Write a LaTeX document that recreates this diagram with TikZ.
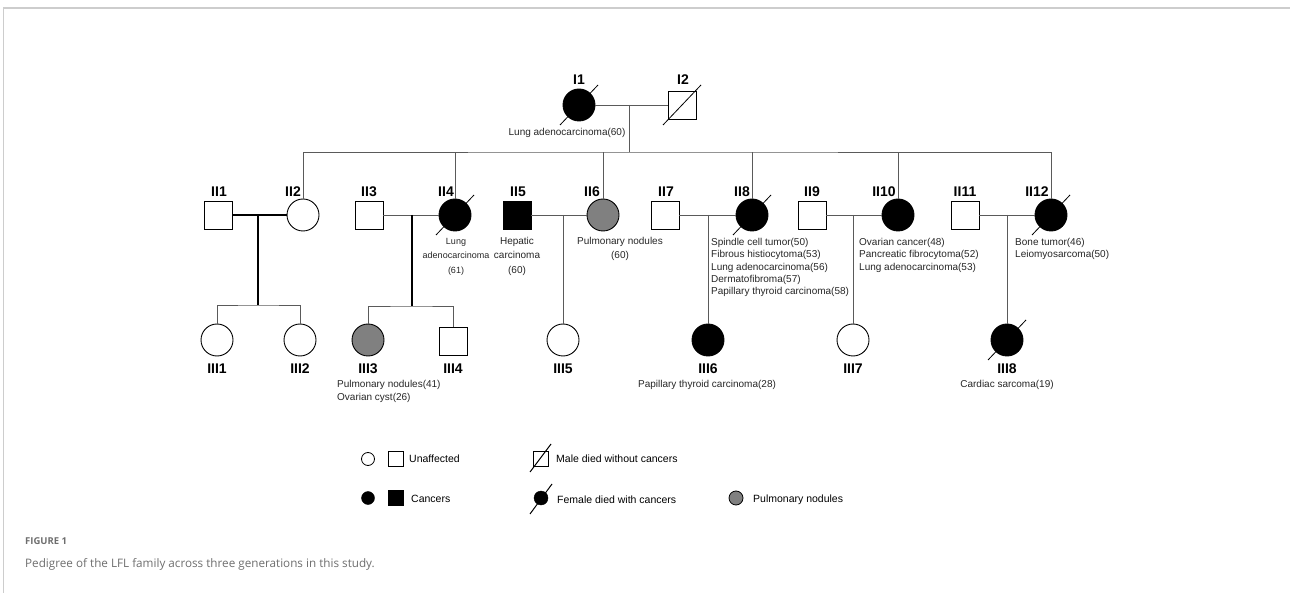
\documentclass[tikz,border=0pt]{standalone}
\usepackage{fontspec}
\setmainfont{Liberation Sans}
\newfontfamily\capfont{Open Sans}
\usetikzlibrary{positioning}

\definecolor{linegray}{RGB}{90,90,90}
\definecolor{nodulegray}{RGB}{128,128,128}
\definecolor{framegray}{RGB}{205,205,205}
\definecolor{capgray}{RGB}{110,110,110}

\newcommand{\deathmark}[1]{\draw [black, line width=0.8pt] ([shift={(-19,20)}]#1.center) -- ([shift={(19,-20)}]#1.center);}

\begin{document}
\begin{tikzpicture}[x=1pt, y=-1pt,
    male/.style={draw, line width=0.9pt, minimum size=28pt, inner sep=0pt},
    female/.style={draw, circle, line width=0.9pt, minimum size=32pt, inner sep=0pt},
    kin/.style={linegray, line width=0.8pt},
    bold kin/.style={black, line width=1.6pt},
    tag/.style={font=\fontsize{14}{14}\selectfont\bfseries, inner sep=0pt},
    note/.style={font=\fontsize{10}{12.3}\selectfont, text=black!85, inner sep=0pt},
    legtext/.style={font=\fontsize{10.5}{12}\selectfont, inner sep=0pt, anchor=west}]
  \useasboundingbox (0,0) rectangle (1290,593);
  \draw [framegray, line width=1.5pt] (3.5,593) -- (3.5,8) -- (1290,8);

  % generation I
  \node [female, fill=black] (I1) at (579,105) {};
  \node [male] (I2) at (682,105) {};
  \node [tag] at (579,80) {I1};
  \node [tag] at (683,80) {I2};
  \node [note] at (567,133) {Lung adenocarcinoma(60)};

  % generation II
  \node [male] (II1) at (218,215) {};
  \node [female] (II2) at (303,215) {};
  \node [male] (II3) at (369,215) {};
  \node [female, fill=black] (II4) at (455,215) {};
  \node [male, fill=black] (II5) at (517,215) {};
  \node [female, fill=nodulegray] (II6) at (603,215) {};
  \node [male] (II7) at (665,215) {};
  \node [female, fill=black] (II8) at (752,215) {};
  \node [male] (II9) at (812,215) {};
  \node [female, fill=black] (II10) at (898,215) {};
  \node [male] (II11) at (965,215) {};
  \node [female, fill=black] (II12) at (1051,215) {};

  \node [tag] at (219,192) {II1};
  \node [tag] at (293,192) {II2};
  \node [tag] at (369,192) {II3};
  \node [tag] at (446,192) {II4};
  \node [tag] at (518,192) {II5};
  \node [tag] at (592,192) {II6};
  \node [tag] at (666,192) {II7};
  \node [tag] at (742,192) {II8};
  \node [tag] at (812,192) {II9};
  \node [tag] at (884,192) {II10};
  \node [tag] at (965,192) {II11};
  \node [tag] at (1037,192) {II12};

  \node [note, anchor=north, align=center, font=\fontsize{9}{14.5}\selectfont] at (456,238) {Lung\\adenocarcinoma\\(61)};
  \node [note, anchor=north, align=center, font=\fontsize{10}{14.5}\selectfont] at (517,237) {Hepatic\\carcinoma\\(60)};
  \node [note, anchor=north, align=center, font=\fontsize{10}{14.5}\selectfont] at (620,237) {Pulmonary nodules\\(60)};
  \node [note, anchor=north west, align=left] at (711,238) {Spindle cell tumor(50)\\Fibrous histiocytoma(53)\\Lung adenocarcinoma(56)\\Dermatofibroma(57)\\Papillary thyroid carcinoma(58)};
  \node [note, anchor=north west, align=left] at (859,238) {Ovarian cancer(48)\\Pancreatic fibrocytoma(52)\\Lung adenocarcinoma(53)};
  \node [note, anchor=north west, align=left] at (1015,238) {Bone tumor(46)\\Leiomyosarcoma(50)};

  % generation III
  \node [female] (III1) at (217,340) {};
  \node [female] (III2) at (300,340) {};
  \node [female, fill=nodulegray] (III3) at (368,340) {};
  \node [male] (III4) at (453,341) {};
  \node [female] (III5) at (563,340) {};
  \node [female, fill=black] (III6) at (708,340) {};
  \node [female] (III7) at (853,340) {};
  \node [female, fill=black] (III8) at (1007,340) {};

  \node [tag] at (217,369) {III1};
  \node [tag] at (300,369) {III2};
  \node [tag] at (368,369) {III3};
  \node [tag] at (453,369) {III4};
  \node [tag] at (563,369) {III5};
  \node [tag] at (708,369) {III6};
  \node [tag] at (853,369) {III7};
  \node [tag] at (1007,369) {III8};

  \node [note, anchor=north west, align=left, font=\fontsize{10}{13}\selectfont] at (337,380) {Pulmonary nodules(41)\\Ovarian cyst(26)};
  \node [note, anchor=north] at (707,380) {Papillary thyroid carcinoma(28)};
  \node [note, anchor=north] at (1007,380) {Cardiac sarcoma(19)};

  % deaths
  \deathmark{I1}
  \deathmark{I2}
  \deathmark{II4}
  \deathmark{II8}
  \deathmark{II12}
  \deathmark{III8}

  % lines of descent
  \coordinate (sib) at (629,152);
  \draw [kin] (I1.east) -- (I2.west);
  \draw [kin] (sib |- I1) -- (sib);
  \draw [kin] (II2.north) |- (sib) -| (II12.north);
  \foreach \n in {II4,II6,II8,II10}
    \draw [kin] (\n.north) -- (\n.north |- sib);

  \coordinate (d1) at (258,215);
  \coordinate (h1) at (258,305);
  \draw [black, line width=1.1pt] (II1.east) -- (II2.west);
  \draw [bold kin] (d1) -- (h1);
  \draw [kin] (III1.north) |- (h1) -| (III2.north);

  \coordinate (d2) at (412,215);
  \coordinate (h2) at (412,306);
  \draw [kin] (II3.east) -- (II4.west);
  \draw [bold kin] (d2) -- (h2);
  \draw [kin] (III3.north) |- (h2) -| (III4.north);

  \draw [kin] (II5.east) -- (II6.west);
  \draw [kin] (III5.north |- II5) -- (III5.north);
  \draw [kin] (II7.east) -- (II8.west);
  \draw [kin] (III6.north |- II7) -- (III6.north);
  \draw [kin] (II9.east) -- (II10.west);
  \draw [kin] (III7.north |- II9) -- (III7.north);
  \draw [kin] (II11.east) -- (II12.west);
  \draw [kin] (III8.north |- II11) -- (III8.north);

  % legend
  \node [circle, draw, line width=0.8pt, minimum size=13pt, inner sep=0pt] (lg1) at (368,459) {};
  \node [draw, line width=0.8pt, minimum size=15pt, inner sep=0pt] (lg2) at (396,459) {};
  \node [legtext] at (409,459) {Unaffected};
  \node [circle, draw, fill=black, minimum size=13pt, inner sep=0pt] (lg3) at (368,498) {};
  \node [draw, fill=black, minimum size=15pt, inner sep=0pt] (lg4) at (396,498) {};
  \node [legtext] at (411,499) {Cancers};
  \node [draw, line width=0.8pt, minimum size=15pt, inner sep=0pt] (lg5) at (541,459) {};
  \draw [line width=1pt] ([shift={(-11,13)}]lg5.center) -- ([shift={(10,-15)}]lg5.center);
  \node [legtext] at (556,459) {Male died without cancers};
  \node [circle, draw, fill=black, minimum size=14pt, inner sep=0pt] (lg6) at (541,498) {};
  \draw [line width=1pt] ([shift={(-11,16)}]lg6.center) -- ([shift={(11,-14)}]lg6.center);
  \node [legtext] at (557,500) {Female died with cancers};
  \node [circle, draw, line width=0.8pt, fill=nodulegray, minimum size=14pt, inner sep=0pt] (lg7) at (736,498) {};
  \node [legtext] at (753,500) {Pulmonary nodules};

  % caption
  \node [anchor=west, inner sep=0pt, text=capgray, font=\capfont\fontsize{9.5}{12}\selectfont\bfseries] at (25,541) {FIGURE 1};
  \node [anchor=west, inner sep=0pt, text=capgray, font=\capfont\fontsize{11.7}{14}\selectfont] at (25,564) {Pedigree of the LFL family across three generations in this study.};
\end{tikzpicture}
\end{document}
